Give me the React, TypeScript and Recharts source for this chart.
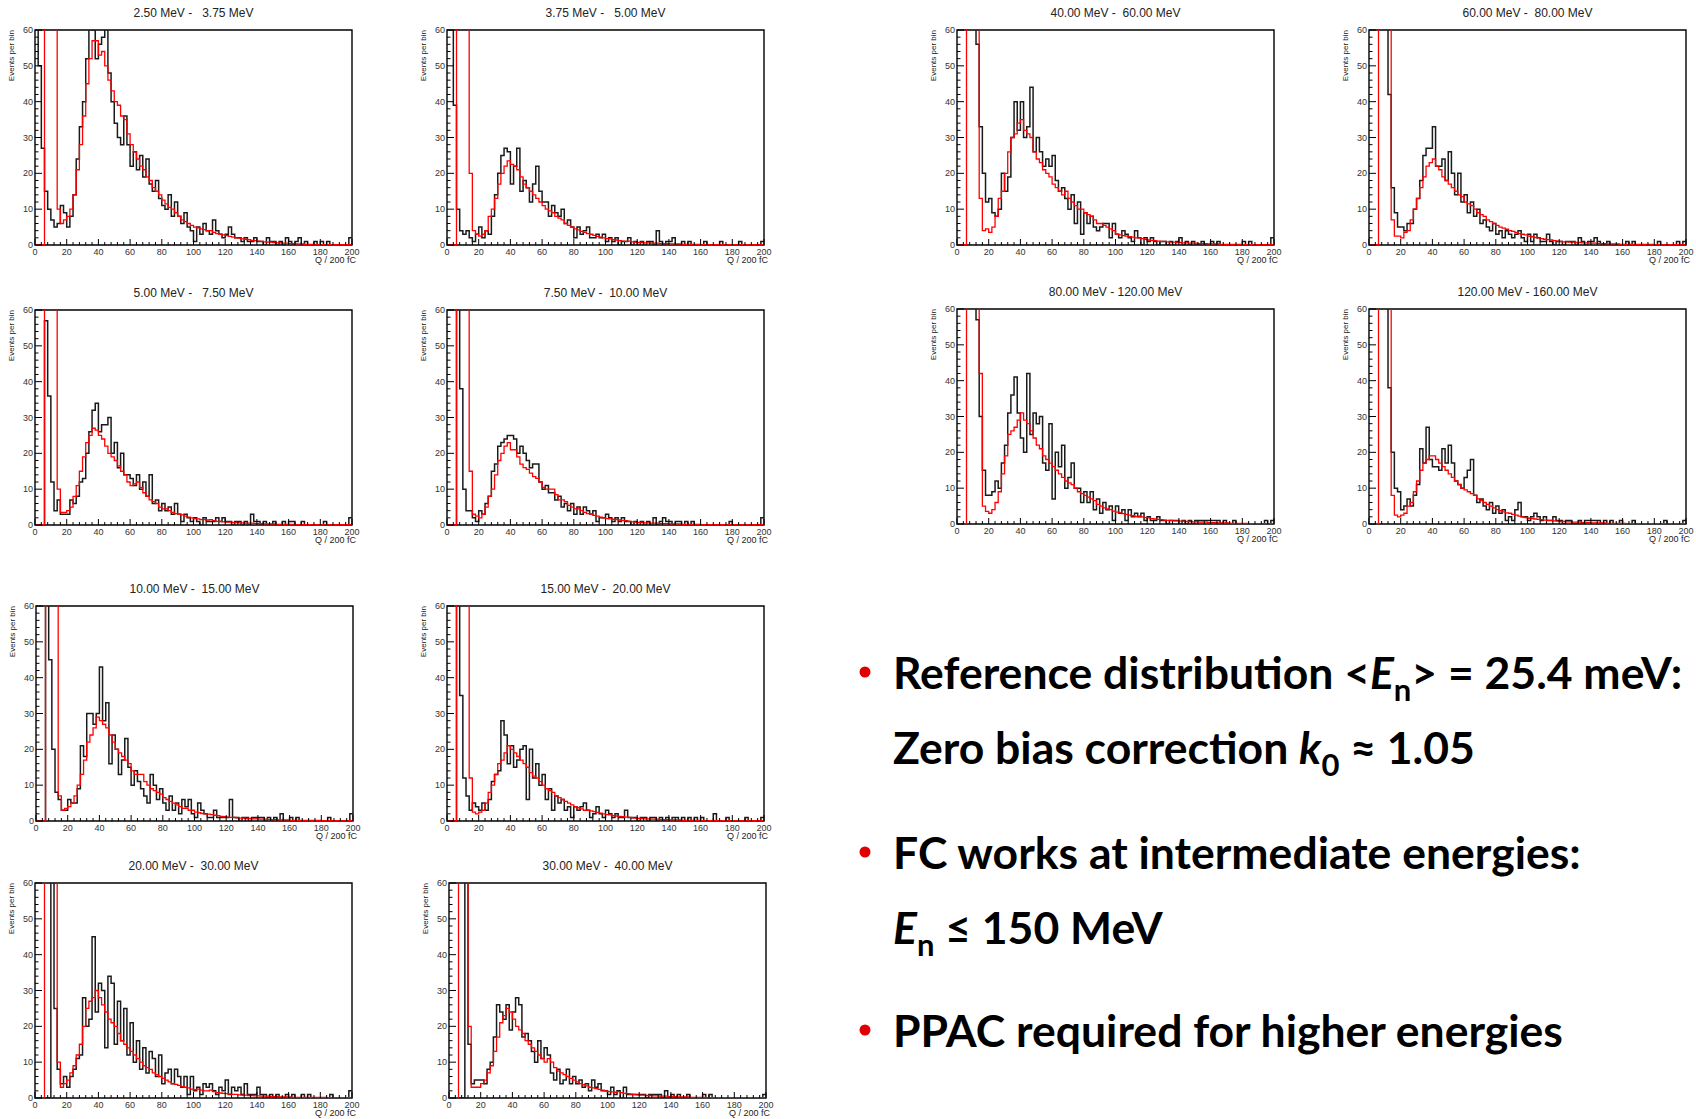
import { LineChart, Line, XAxis, YAxis, ReferenceArea } from "recharts";

// Histogram contents, bin width 2 (Q / 200 fC), 100 bins from 0 to 200.
// "meas" = measured (black), "sim" = simulated (red). 99 = off scale.

const meas_2p50 = [
  99, 50, 27, 15, 10, 7, 5, 6, 11, 9,
  5, 8, 14, 24, 33, 40, 52, 62, 60, 52,
  56, 58, 62, 48, 40, 34, 30, 28, 36, 28,
  22, 26, 21, 25, 19, 24, 17, 15, 18, 13,
  11, 10, 14, 8, 12, 8, 6, 9, 5, 4,
  1, 5, 3, 6, 4, 3, 7, 4, 3, 2,
  3, 5, 3, 2, 2, 1, 2, 1, 1, 2,
  1, 1, 0, 2, 1, 1, 0, 1, 0, 2,
  1, 0, 1, 2, 0, 1, 0, 0, 1, 0,
  1, 0, 1, 0, 0, 0, 0, 0, 0, 2,
];
const sim_2p50 = [
  0, 0, 0, 99, 99, 99, 99, 10, 6, 7,
  8, 10, 14, 21, 28, 36, 45, 52, 57, 57,
  53, 54, 50, 46, 43, 40, 39, 36, 35, 31,
  28, 26, 24, 22, 21, 19, 18, 16, 15, 14,
  12.5, 11.5, 10.5, 10, 9, 8, 7, 6.5, 6, 5.5,
  5, 4.8, 4.5, 4.3, 4, 4, 3.5, 3.2, 3, 2.8,
  2.6, 2.4, 2.2, 2, 1.9, 1.7, 1.6, 1.5, 1.3, 1.2,
  1.1, 1, 0.9, 0.8, 0.8, 0.7, 0.6, 0.6, 0.5, 0.5,
  0.4, 0.4, 0.3, 0.3, 0.3, 0.2, 0.2, 0.2, 0.2, 0.1,
  0.1, 0.1, 0.1, 0.1, 0.1, 0.1, 0.1, 0.1, 0.1, 0.1,
];

const meas_3p75 = [
  99, 99, 39, 10, 4, 3, 4, 2, 1, 3,
  5, 2, 4, 3, 8, 14, 20, 25, 27, 26,
  17, 22, 27, 15, 18, 16, 12, 17, 22, 15,
  12, 12, 8, 11, 9, 8, 10, 6, 7, 5,
  2, 5, 3, 4, 5, 2, 2, 3, 2, 3,
  1, 2, 1, 2, 0, 1, 1, 2, 0, 1,
  0, 1, 0, 1, 1, 0, 4, 1, 0, 1,
  1, 2, 0, 0, 1, 0, 1, 0, 0, 0,
  0, 1, 0, 0, 0, 0, 1, 0, 0, 0,
  0, 0, 1, 0, 0, 0, 0, 0, 0, 1,
];
const sim_3p75 = [
  0, 0, 0, 99, 99, 99, 99, 20, 4, 3,
  2.5, 3, 4, 8, 10, 13, 17, 20, 22, 23.5,
  22.5, 22, 21, 19, 17, 16, 15, 14, 13, 12,
  11, 10, 9.5, 9, 8, 7.5, 7, 6, 5.5, 5,
  4.5, 4.2, 3.8, 3.5, 3.2, 3, 2.7, 2.4, 2.2, 2,
  1.8, 1.7, 1.5, 1.4, 1.2, 1.1, 1, 1.1, 0.9, 0.8,
  0.7, 0.7, 0.6, 0.6, 0.5, 0.5, 0.5, 0.4, 0.4, 0.4,
  0.3, 0.3, 0.3, 0.3, 0.2, 0.2, 0.2, 0.2, 0.2, 0.2,
  0.1, 0.1, 0.1, 0.1, 0.1, 0.1, 0.1, 0.1, 0.1, 0.1,
  0.1, 0.1, 0.1, 0.1, 0.1, 0.1, 0.1, 0.1, 0.1, 0.1,
];

const meas_40 = [
  99, 99, 99, 99, 99, 99, 56, 33, 20, 12,
  13, 9, 8, 10, 20, 15, 19, 30, 40, 32,
  40, 30, 33, 44, 26, 30, 26, 22, 24, 22,
  25, 18, 15, 16, 13, 10, 14, 6, 12, 3,
  9, 6, 8, 5, 4, 5, 6, 6, 2, 6,
  3, 2, 4, 3, 2, 1, 4, 2, 0, 2,
  1, 2, 1, 0, 1, 1, 0, 1, 0, 1,
  2, 0, 1, 0, 1, 0, 0, 1, 0, 0,
  1, 0, 1, 0, 0, 0, 0, 0, 0, 0,
  1, 0, 1, 0, 0, 0, 0, 0, 0, 2,
];
const sim_40 = [
  0, 0, 0, 99, 99, 99, 99, 13, 4, 4.5,
  3.5, 5, 8, 13, 15, 20, 26, 30, 31, 34,
  35, 32, 31, 30, 26, 24, 23, 21, 20, 19,
  17, 16, 15, 14, 15, 13, 12, 11, 10, 10,
  9, 8.5, 8, 7, 6, 6, 5.5, 5, 4.5, 4,
  3, 2.8, 2.6, 2.5, 2.3, 2.2, 2, 2, 1.8, 1.6,
  1.4, 1.3, 1.2, 1.1, 1, 1, 0.9, 0.8, 0.8, 0.7,
  0.7, 0.6, 0.6, 0.5, 0.5, 0.5, 0.4, 0.4, 0.4, 0.3,
  0.3, 0.3, 0.3, 0.2, 0.2, 0.2, 0.2, 0.2, 0.2, 0.2,
  0.1, 0.1, 0.1, 0.1, 0.1, 0.1, 0.1, 0.1, 0.1, 0.1,
];

const meas_60 = [
  99, 99, 99, 99, 99, 99, 42, 16, 9, 5,
  5, 4, 6, 6, 10, 13, 18, 25, 27, 27,
  33, 22, 22, 24, 18, 26, 20, 14, 20, 12,
  14, 9, 12, 8, 10, 6, 7, 5, 4, 6,
  3, 4, 2, 4, 3, 2, 3, 4, 2, 1,
  3, 1, 3, 2, 1, 1, 3, 1, 0, 1,
  1, 0, 1, 1, 1, 0, 2, 1, 0, 1,
  1, 2, 1, 0, 0, 1, 0, 0, 0, 0,
  0, 1, 0, 1, 0, 0, 0, 0, 0, 0,
  0, 1, 0, 0, 0, 0, 0, 1, 0, 1,
];
const sim_60 = [
  0, 0, 0, 99, 99, 99, 99, 7, 2.5, 2.5,
  2, 3.5, 4, 7, 10, 13, 16, 19, 22, 23,
  24, 22, 21, 19, 18, 17, 16, 15, 14, 13.5,
  12, 11.5, 11, 10, 9, 8.5, 8, 7, 6.5, 6,
  5.5, 5, 4.7, 4.4, 4, 3.8, 3.5, 3.2, 3, 2.8,
  2.5, 2.3, 2.1, 2, 1.8, 1.6, 1.5, 1.4, 1.2, 1.1,
  1, 0.9, 0.9, 0.8, 0.8, 0.7, 0.7, 0.6, 0.6, 0.5,
  0.5, 0.5, 0.4, 0.4, 0.4, 0.3, 0.3, 0.3, 0.3, 0.2,
  0.2, 0.2, 0.2, 0.2, 0.2, 0.2, 0.2, 0.2, 0.2, 0.2,
  0.1, 0.1, 0.1, 0.1, 0.1, 0.1, 0.1, 0.1, 0.1, 0.1,
];

const meas_5p00 = [
  0, 0, 0, 57, 36, 12, 4, 7, 3, 3,
  3, 7, 6, 8, 12, 13, 20, 26, 32, 34,
  26, 28, 28, 30, 20, 23, 16, 20, 14, 14,
  13, 11, 14, 10, 12, 8, 14, 6, 7, 4,
  6, 4, 5, 3, 6, 3, 1, 3, 2, 1,
  2, 1, 0, 2, 1, 1, 1, 2, 1, 2,
  1, 1, 0, 1, 1, 0, 1, 0, 3, 1,
  1, 0, 1, 0, 0, 1, 0, 0, 1, 0,
  1, 1, 0, 0, 1, 0, 0, 0, 0, 0,
  0, 1, 0, 0, 0, 0, 0, 0, 0, 2,
];
const sim_5p00 = [
  0, 0, 0, 99, 99, 99, 99, 10, 3.5, 3.5,
  4, 5, 8, 11, 15, 19, 23, 25, 27, 26.5,
  25, 24, 22, 20, 19, 18, 16.5, 15, 14, 12,
  11, 11.5, 12, 10.5, 9, 8, 7, 6.5, 6, 5,
  4.5, 4.5, 4, 3.5, 3.2, 3, 2.8, 2.5, 2.2, 2,
  1.8, 1.7, 1.5, 1.5, 1.4, 1.5, 1.2, 1, 1, 0.9,
  0.8, 0.8, 0.7, 0.7, 0.6, 0.6, 0.5, 0.5, 0.5, 0.4,
  0.4, 0.4, 0.3, 0.3, 0.3, 0.3, 0.2, 0.2, 0.2, 0.2,
  0.2, 0.2, 0.1, 0.1, 0.1, 0.1, 0.1, 0.1, 0.1, 0.1,
  0.1, 0.1, 0.1, 0.1, 0.1, 0.1, 0.1, 0.1, 0.1, 0.1,
];

const meas_7p50 = [
  0, 0, 0, 99, 38, 10, 4, 4, 2, 1,
  4, 3, 6, 8, 15, 17, 22, 23, 24, 25,
  25, 24, 20, 22, 20, 18, 16, 17, 17, 12,
  10, 11, 9, 9, 7, 8, 5, 6, 4, 6,
  3, 5, 3, 5, 4, 3, 4, 1, 2, 2,
  3, 2, 1, 2, 1, 2, 1, 1, 0, 1,
  0, 1, 0, 1, 0, 2, 0, 1, 2, 1,
  1, 0, 1, 1, 0, 1, 0, 1, 0, 0,
  0, 0, 0, 0, 0, 0, 0, 0, 0, 1,
  0, 0, 0, 0, 0, 0, 0, 0, 0, 2,
];
const sim_7p50 = [
  0, 0, 0, 99, 99, 99, 99, 15, 3, 2.5,
  2, 3, 5, 8, 10, 14, 18, 20, 22, 23,
  21, 21, 19, 17, 16, 15.5, 14.5, 13.5, 13, 12,
  10.5, 10, 10, 10, 8.5, 7, 7, 6.5, 5.5, 5,
  4.5, 4.5, 4, 3.5, 3.2, 3, 2.7, 2.5, 2.2, 2,
  1.8, 1.7, 1.6, 1.5, 1.4, 1.3, 1.2, 1, 0.9, 0.8,
  0.7, 0.7, 0.6, 0.6, 0.5, 0.5, 0.5, 0.4, 0.4, 0.4,
  0.3, 0.3, 0.3, 0.3, 0.2, 0.2, 0.2, 0.2, 0.2, 0.2,
  0.1, 0.1, 0.1, 0.1, 0.1, 0.1, 0.1, 0.1, 0.1, 0.1,
  0.1, 0.1, 0.1, 0.1, 0.1, 0.1, 0.1, 0.1, 0.1, 0.1,
];

const meas_80 = [
  99, 99, 99, 99, 99, 99, 57, 30, 15, 8,
  8, 9, 12, 10, 17, 22, 31, 36, 41, 31,
  24, 20, 42, 25, 31, 28, 30, 17, 15, 28,
  7, 20, 16, 22, 10, 13, 17, 10, 10, 6,
  9, 6, 9, 4, 7, 3, 6, 4, 5, 1,
  5, 3, 4, 1, 4, 2, 3, 2, 3, 1,
  2, 1, 1, 2, 1, 1, 0, 1, 1, 1,
  0, 1, 0, 1, 0, 1, 1, 1, 1, 1,
  1, 1, 1, 0, 1, 0, 0, 1, 0, 0,
  0, 0, 0, 0, 0, 0, 0, 1, 0, 1,
];
const sim_80 = [
  0, 0, 0, 99, 99, 99, 99, 42, 5, 3.5,
  3, 4, 6, 9, 14, 19, 25, 26, 27, 29,
  31, 29, 28, 26, 24, 22, 21, 19, 18, 17,
  16, 15, 14, 13, 12, 11.5, 11, 10, 9, 8.5,
  8, 7.5, 7, 6.5, 5.5, 5, 4.5, 4.2, 4, 3.6,
  3.3, 3.1, 2.9, 2.7, 2.5, 2.3, 2.1, 2.2, 2, 1.8,
  1.7, 1.5, 1.4, 1.3, 1.2, 1.1, 1, 1, 0.9, 0.9,
  0.8, 0.8, 0.7, 0.7, 0.6, 0.6, 0.5, 0.5, 0.5, 0.4,
  0.4, 0.4, 0.3, 0.3, 0.3, 0.3, 0.2, 0.2, 0.2, 0.2,
  0.2, 0.2, 0.1, 0.1, 0.1, 0.1, 0.1, 0.1, 0.1, 0.1,
];

const meas_120 = [
  99, 99, 99, 99, 99, 99, 38, 20, 10, 9,
  4, 5, 7, 5, 8, 11, 21, 17, 27, 18,
  16, 16, 15, 21, 17, 22, 17, 12, 11, 10,
  13, 15, 18, 8, 6, 7, 5, 4, 6, 3,
  5, 3, 4, 1, 2, 1, 4, 6, 2, 2,
  1, 2, 3, 2, 1, 2, 1, 1, 2, 1,
  1, 0, 1, 1, 0, 0, 1, 0, 1, 1,
  1, 1, 1, 0, 1, 0, 1, 0, 0, 1,
  0, 0, 0, 1, 0, 0, 0, 0, 0, 0,
  0, 0, 0, 1, 0, 0, 0, 0, 0, 1,
];
const sim_120 = [
  0, 0, 0, 99, 99, 99, 99, 8, 2.5, 2,
  2.5, 3, 5, 6, 9, 12, 15, 17, 18, 19,
  19, 18, 17, 16, 15, 14, 13, 12, 11, 10,
  9.5, 9, 8.5, 8, 7, 6.5, 6, 5.5, 5, 4.5,
  4, 3.7, 3.4, 3.1, 3, 2.7, 2.5, 2.2, 2, 1.8,
  1.6, 1.5, 1.4, 1.3, 1.2, 1.1, 1, 1, 0.9, 0.8,
  0.7, 0.7, 0.6, 0.6, 0.5, 0.5, 0.5, 0.4, 0.4, 0.4,
  0.3, 0.3, 0.3, 0.3, 0.3, 0.2, 0.2, 0.2, 0.2, 0.2,
  0.2, 0.1, 0.1, 0.1, 0.1, 0.1, 0.1, 0.1, 0.1, 0.1,
  0.1, 0.1, 0.1, 0.1, 0.1, 0.1, 0.1, 0.1, 0.1, 0.1,
];

const meas_10 = [
  0, 0, 0, 99, 45, 20, 8, 6, 3, 3,
  6, 5, 5, 9, 21, 18, 30, 30, 27, 30,
  43, 28, 33, 16, 24, 20, 13, 17, 23, 15,
  10, 14, 11, 9, 7, 5, 13, 10, 6, 9,
  5, 3, 7, 3, 5, 2, 6, 4, 6, 2,
  1, 5, 3, 2, 1, 1, 3, 1, 1, 1,
  1, 6, 1, 1, 0, 1, 1, 0, 1, 1,
  1, 1, 0, 1, 0, 1, 0, 2, 0, 0,
  1, 0, 1, 0, 0, 0, 0, 0, 0, 0,
  0, 0, 1, 0, 0, 0, 0, 0, 0, 2,
];
const sim_10 = [
  0, 0, 0, 99, 99, 99, 99, 7, 3, 3.5,
  4, 5, 7, 10, 13, 17, 22, 24, 26, 29,
  28, 27, 26, 24, 22, 20, 19, 18, 17, 16,
  14, 13, 13, 13, 11, 10, 9, 8.5, 8, 7.5,
  6.5, 6, 5.5, 5, 4.5, 4, 3.5, 3.5, 3, 3,
  2.5, 2.3, 2.1, 2, 1.9, 1.8, 1.6, 1.5, 1.3, 1.2,
  1.1, 1, 1, 0.9, 0.8, 0.8, 0.7, 0.7, 0.6, 0.6,
  0.5, 0.5, 0.5, 0.4, 0.4, 0.4, 0.3, 0.3, 0.3, 0.3,
  0.2, 0.2, 0.2, 0.2, 0.2, 0.2, 0.2, 0.2, 0.2, 0.2,
  0.1, 0.1, 0.1, 0.1, 0.1, 0.1, 0.1, 0.1, 0.1, 0.1,
];

const meas_15 = [
  0, 0, 0, 99, 35, 12, 7, 3, 5, 4,
  3, 5, 3, 6, 11, 13, 14, 28, 24, 16,
  21, 15, 17, 20, 21, 6, 20, 12, 16, 10,
  13, 6, 9, 3, 7, 5, 6, 3, 4, 1,
  4, 3, 4, 5, 3, 1, 2, 4, 2, 1,
  3, 2, 1, 2, 1, 1, 3, 1, 1, 1,
  0, 1, 1, 0, 1, 1, 0, 1, 0, 1,
  0, 1, 1, 0, 1, 0, 1, 0, 1, 0,
  1, 0, 0, 0, 2, 0, 0, 0, 1, 0,
  0, 0, 0, 0, 1, 0, 0, 0, 0, 1,
];
const sim_15 = [
  0, 0, 0, 99, 99, 99, 99, 12, 2.5, 2,
  2.5, 3, 5, 8, 10, 13, 16, 17, 19, 21,
  20, 19, 18, 17, 16, 15, 13.5, 12.5, 12, 11,
  10, 9, 8.5, 8, 7, 6.5, 6, 5.5, 5, 4.5,
  4, 3.7, 3.4, 3, 3, 2.8, 2.6, 2.4, 2.2, 2,
  1.8, 1.7, 1.5, 1.4, 1.3, 1.2, 1.1, 1, 0.9, 0.8,
  0.7, 0.7, 0.6, 0.6, 0.5, 0.5, 0.5, 0.4, 0.4, 0.4,
  0.3, 0.3, 0.3, 0.3, 0.2, 0.2, 0.2, 0.2, 0.2, 0.2,
  0.1, 0.1, 0.1, 0.1, 0.1, 0.1, 0.1, 0.1, 0.1, 0.1,
  0.1, 0.1, 0.1, 0.1, 0.1, 0.1, 0.1, 0.1, 0.1, 0.1,
];

const meas_20 = [
  0, 0, 0, 0, 0, 99, 25, 8, 4, 6,
  3, 6, 8, 11, 12, 28, 20, 22, 45, 24,
  32, 30, 14, 34, 32, 15, 27, 16, 25, 12,
  21, 10, 16, 8, 14, 7, 13, 11, 6, 12,
  4, 7, 8, 4, 8, 6, 3, 6, 1, 6,
  2, 3, 1, 4, 3, 4, 2, 1, 3, 2,
  5, 1, 3, 2, 3, 1, 4, 1, 1, 1,
  3, 1, 1, 0, 1, 0, 1, 0, 0, 1,
  0, 1, 0, 0, 1, 0, 1, 0, 0, 0,
  0, 0, 0, 1, 0, 0, 0, 0, 0, 2,
];
const sim_20 = [
  0, 0, 0, 99, 99, 99, 99, 10, 3, 4,
  5, 7, 9, 12, 15, 20, 25, 27, 28, 30,
  28, 26, 24, 22, 21, 20, 18, 16, 15, 14,
  13, 12, 11, 10, 9, 8.5, 8, 7, 6.5, 6,
  5.5, 5, 4.5, 4, 3.8, 3.5, 3.2, 3, 2.8, 2.5,
  2.3, 2.5, 2.2, 2, 2, 2.2, 1.8, 1.5, 1.4, 1.3,
  1.2, 1.1, 1, 1, 0.9, 0.8, 0.8, 0.7, 0.7, 0.6,
  0.6, 0.5, 0.5, 0.5, 0.4, 0.4, 0.4, 0.3, 0.3, 0.3,
  0.3, 0.2, 0.2, 0.2, 0.2, 0.2, 0.2, 0.2, 0.2, 0.2,
  0.2, 0.2, 0.1, 0.1, 0.1, 0.1, 0.1, 0.1, 0.1, 0.1,
];

const meas_30 = [
  0, 0, 0, 0, 0, 80, 15, 4, 5, 5,
  5, 4, 8, 10, 17, 26, 24, 22, 26, 19,
  24, 28, 26, 17, 18, 16, 13, 10, 16, 11,
  14, 12, 7, 5, 8, 4, 5, 8, 4, 6,
  4, 5, 3, 4, 2, 5, 3, 4, 2, 2,
  1, 3, 1, 2, 0, 3, 1, 1, 1, 1,
  1, 1, 0, 1, 1, 1, 1, 0, 2, 0,
  1, 0, 1, 0, 0, 1, 0, 0, 0, 0,
  1, 0, 1, 0, 0, 0, 0, 0, 0, 0,
  0, 0, 0, 0, 0, 0, 0, 0, 0, 1,
];
const sim_30 = [
  0, 0, 0, 99, 99, 99, 20, 3, 3, 3,
  4, 5, 7, 9, 13, 17, 21, 23, 25, 24,
  22, 20, 19, 18, 16, 15, 14, 13, 12, 11,
  10, 11, 10, 8.5, 7.5, 7, 6.5, 6, 5.5, 5,
  4.5, 4, 3.7, 3.4, 3, 2.8, 2.6, 2.4, 2.2, 2,
  1.8, 1.7, 1.6, 1.8, 1.5, 1.3, 1.2, 1.1, 1, 0.9,
  0.8, 0.8, 0.7, 0.7, 0.6, 0.6, 0.5, 0.5, 0.5, 0.4,
  0.4, 0.4, 0.3, 0.3, 0.3, 0.3, 0.2, 0.2, 0.2, 0.2,
  0.2, 0.1, 0.1, 0.1, 0.1, 0.1, 0.1, 0.1, 0.1, 0.1,
  0.1, 0.1, 0.1, 0.1, 0.1, 0.1, 0.1, 0.1, 0.1, 0.1,
];

const xTicks = [
  0, 4, 8, 12, 16, 20, 24, 28, 32, 36, 40, 44, 48, 52, 56, 60, 64, 68, 72, 76,
  80, 84, 88, 92, 96, 100, 104, 108, 112, 116, 120, 124, 128, 132, 136, 140,
  144, 148, 152, 156, 160, 164, 168, 172, 176, 180, 184, 188, 192, 196, 200,
];
const yTicks = [
  0, 2, 4, 6, 8, 10, 12, 14, 16, 18, 20, 22, 24, 26, 28, 30,
  32, 34, 36, 38, 40, 42, 44, 46, 48, 50, 52, 54, 56, 58, 60,
];

const PW = 317; // plot width
const PH = 215; // plot height
const ROOT_FONT = "'Liberation Sans', Arial, sans-serif";

const panels = [
  { title: "2.50 MeV -   3.75 MeV", meas: meas_2p50, sim: sim_2p50, left: 35, top: 30 },
  { title: "3.75 MeV -   5.00 MeV", meas: meas_3p75, sim: sim_3p75, left: 447, top: 30 },
  { title: "40.00 MeV -  60.00 MeV", meas: meas_40, sim: sim_40, left: 957, top: 30 },
  { title: "60.00 MeV -  80.00 MeV", meas: meas_60, sim: sim_60, left: 1369, top: 30 },
  { title: "5.00 MeV -   7.50 MeV", meas: meas_5p00, sim: sim_5p00, left: 35, top: 310 },
  { title: "7.50 MeV -  10.00 MeV", meas: meas_7p50, sim: sim_7p50, left: 447, top: 310 },
  { title: "80.00 MeV - 120.00 MeV", meas: meas_80, sim: sim_80, left: 957, top: 309 },
  { title: "120.00 MeV - 160.00 MeV", meas: meas_120, sim: sim_120, left: 1369, top: 309 },
  { title: "10.00 MeV -  15.00 MeV", meas: meas_10, sim: sim_10, left: 36, top: 606 },
  { title: "15.00 MeV -  20.00 MeV", meas: meas_15, sim: sim_15, left: 447, top: 606 },
  { title: "20.00 MeV -  30.00 MeV", meas: meas_20, sim: sim_20, left: 35, top: 883 },
  { title: "30.00 MeV -  40.00 MeV", meas: meas_30, sim: sim_30, left: 449, top: 883 },
];

// step data: one point per left bin edge plus the closing edge at 200
function toRows(meas: number[], sim: number[]) {
  const rows = [];
  for (let i = 0; i <= meas.length; i++) {
    const k = Math.min(i, meas.length - 1);
    rows.push({ q: i * 2, meas: meas[k], sim: sim[k] });
  }
  return rows;
}

function XTick(props: any) {
  const { x, y, payload } = props;
  const v = payload.value;
  const major = v % 20 === 0;
  return (
    <g>
      <line x1={x} x2={x} y1={y} y2={y - (major ? 6 : 3)} stroke="#000" strokeWidth={1} />
      {major && (
        <text x={x} y={y + 9.5} textAnchor="middle" fontSize={9} fill="#333" fontFamily={ROOT_FONT}>
          {v}
        </text>
      )}
    </g>
  );
}

function YTick(props: any) {
  const { x, y, payload } = props;
  const v = payload.value;
  const major = v % 10 === 0;
  return (
    <g>
      <line x1={x} x2={x + (major ? 7 : 3.5)} y1={y} y2={y} stroke="#000" strokeWidth={1} />
      {major && (
        <text x={x - 2} y={y + 3} textAnchor="end" fontSize={9} fill="#333" fontFamily={ROOT_FONT}>
          {v}
        </text>
      )}
    </g>
  );
}

const ML = 30;
const MT = 4;
const MR = 8;
const MB = 20;

function Histo({ meas, sim, left, top }: any) {
  const rows = toRows(meas, sim);
  const w = ML + PW + MR;
  const h = MT + PH + MB;
  return (
    <div style={{ position: "absolute", left: left - ML, top: top - MT, width: w, height: h }}>
      <LineChart width={w} height={h} data={rows} margin={{ top: MT, right: MR, left: 0, bottom: 0 }}>
        <XAxis
          type="number"
          dataKey="q"
          domain={[0, 200]}
          ticks={xTicks}
          interval={0}
          tickSize={0}
          tickMargin={0}
          tickLine={false}
          axisLine={false}
          tick={XTick}
          height={MB}
        />
        <YAxis
          type="number"
          domain={[0, 60]}
          ticks={yTicks}
          interval={0}
          tickSize={0}
          tickMargin={0}
          tickLine={false}
          axisLine={false}
          tick={YTick}
          width={ML}
          allowDataOverflow
        />
        <Line
          type="stepAfter"
          dataKey="meas"
          stroke="#1a1a1a"
          strokeWidth={1.5}
          dot={false}
          isAnimationActive={false}
        />
        <Line
          type="stepAfter"
          dataKey="sim"
          stroke="#ff0000"
          strokeWidth={1.3}
          dot={false}
          isAnimationActive={false}
        />
        <ReferenceArea x1={0} x2={200} y1={0} y2={60} fill="none" stroke="#000" strokeWidth={1.4} />
      </LineChart>
    </div>
  );
}

const BULLET_FONT = "Lato, 'Open Sans', sans-serif";

export default function App() {
  return (
    <div style={{ position: "absolute", left: 0, top: 0, width: 1696, height: 1119, background: "#fff" }}>
      {panels.map((p) => (
        <Histo key={p.title} {...p} />
      ))}
      <svg
        width={1696}
        height={1119}
        style={{ position: "absolute", left: 0, top: 0, pointerEvents: "none" }}
      >
        {panels.map((p) => (
          <g key={p.title} fontFamily={ROOT_FONT} fill="#222">
            <text x={p.left + PW / 2} y={p.top - 13} textAnchor="middle" fontSize={12} style={{ whiteSpace: "pre" }}>
              {p.title}
            </text>
            <text
              transform={`translate(${p.left - 21} ${p.top}) rotate(-90)`}
              textAnchor="end"
              fontSize={8}
            >
              Events per bin
            </text>
            <text x={p.left + PW + 4} y={p.top + PH + 18} textAnchor="end" fontSize={9}>
              Q / 200 fC
            </text>
          </g>
        ))}

        <g fontFamily={BULLET_FONT} fontWeight={700} fontSize={44.5} fill="#000">
          <circle cx={865} cy={672} r={5.5} fill="#e00000" />
          <text x={893} y={689}>
            Reference distribution &lt;<tspan fontStyle="italic">E</tspan>
            <tspan fontSize={31} dy={12}>n</tspan>
            <tspan dy={-12}>&gt; = 25.4 meV:</tspan>
          </text>
          <text x={893} y={764}>
            Zero bias correction <tspan fontStyle="italic">k</tspan>
            <tspan fontSize={31} dy={12}>0</tspan>
            <tspan dy={-12}> ≈ 1.05</tspan>
          </text>
          <circle cx={865} cy={852} r={5.5} fill="#e00000" />
          <text x={893} y={869}>FC works at intermediate energies:</text>
          <text x={893} y={944}>
            <tspan fontStyle="italic">E</tspan>
            <tspan fontSize={31} dy={12}>n</tspan>
            <tspan dy={-12}> ≤ 150 MeV</tspan>
          </text>
          <circle cx={865} cy={1030} r={5.5} fill="#e00000" />
          <text x={893} y={1047}>PPAC required for higher energies</text>
        </g>
      </svg>
    </div>
  );
}
